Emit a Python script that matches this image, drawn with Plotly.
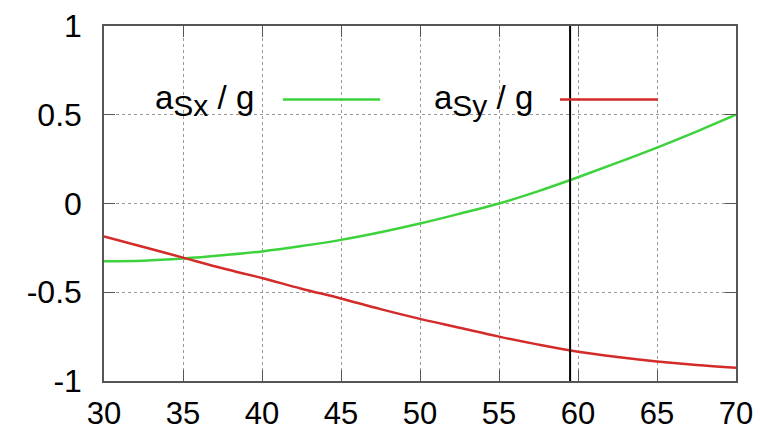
import plotly.graph_objects as go

angle = [30, 32.5, 35, 37.5, 40, 42.5, 45, 47.5, 50, 52.5, 55, 57.5, 60, 62.5, 65, 67.5, 70]
a_sx = [-0.325, -0.322, -0.31, -0.292, -0.27, -0.24, -0.205, -0.162, -0.113, -0.058, 0.0,
        0.07, 0.148, 0.23, 0.315, 0.405, 0.50]
a_sy = [-0.185, -0.245, -0.305, -0.365, -0.42, -0.48, -0.535, -0.595, -0.65, -0.70, -0.75,
        -0.795, -0.835, -0.865, -0.89, -0.91, -0.925]
marker_x = [59.5, 59.5]
marker_y = [-1, 1]
x_ticks = [30, 35, 40, 45, 50, 55, 60, 65, 70]
y_ticks = [-1, -0.5, 0, 0.5, 1]
y_ticktext = ["-1", "-0.5", "0", "0.5", "1"]

GREEN = "#3cd23c"
RED = "#d42a2a"
FONT = "Liberation Sans, Arial, sans-serif"

fig = go.Figure()
fig.add_trace(go.Scatter(x=angle, y=a_sx, mode="lines", line=dict(color=GREEN, width=2.5, shape="spline"),
                         showlegend=False))
fig.add_trace(go.Scatter(x=angle, y=a_sy, mode="lines", line=dict(color=RED, width=2.5, shape="spline"),
                         showlegend=False))
fig.add_trace(go.Scatter(x=marker_x, y=marker_y, mode="lines", line=dict(color="black", width=2),
                         showlegend=False))

# opaque key box (hides grid like gnuplot)
fig.add_shape(type="rect", xref="paper", yref="paper", x0=0.002, x1=0.911, y0=0.603, y1=0.998,
              fillcolor="white", line=dict(width=0), layer="below")
# key samples
fig.add_shape(type="line", xref="paper", yref="paper", x0=0.283, x1=0.437, y0=0.793, y1=0.793,
              line=dict(color=GREEN, width=2.5))
fig.add_shape(type="line", xref="paper", yref="paper", x0=0.7215, x1=0.8766, y0=0.793, y1=0.793,
              line=dict(color=RED, width=2.5))
fig.add_annotation(xref="paper", yref="paper", x=0.0775, y=0.79, xanchor="left", yanchor="middle",
                   text="a<sub><span style='font-size:30px'>Sx</span></sub> / g", showarrow=False,
                   font=dict(family=FONT, size=33, color="black"))
fig.add_annotation(xref="paper", yref="paper", x=0.519, y=0.79, xanchor="left", yanchor="middle",
                   text="a<sub><span style='font-size:30px'>Sy</span></sub> / g", showarrow=False,
                   font=dict(family=FONT, size=33, color="black"))

axis_common = dict(showline=True, linecolor="#555555", linewidth=1.5, mirror="allticks",
                   ticks="inside", ticklen=11, tickcolor="#555555", tickwidth=1,
                   showgrid=True, gridcolor="#999999", griddash="dot", gridwidth=1,
                   zeroline=False, automargin=False)

fig.update_xaxes(range=[30, 70], tickvals=x_ticks, ticklabelstandoff=4,
                 tickfont=dict(family=FONT, size=31, color="black"), **axis_common)
fig.update_yaxes(range=[-1, 1], tickvals=y_ticks, ticktext=y_ticktext, ticklabelstandoff=14,
                 tickfont=dict(family=FONT, size=32, color="black"), **axis_common)

fig.update_layout(width=760, height=433, margin=dict(l=104, r=24, t=26, b=52),
                  plot_bgcolor="white", paper_bgcolor="white", showlegend=False)

fig.write_html("out.html")
